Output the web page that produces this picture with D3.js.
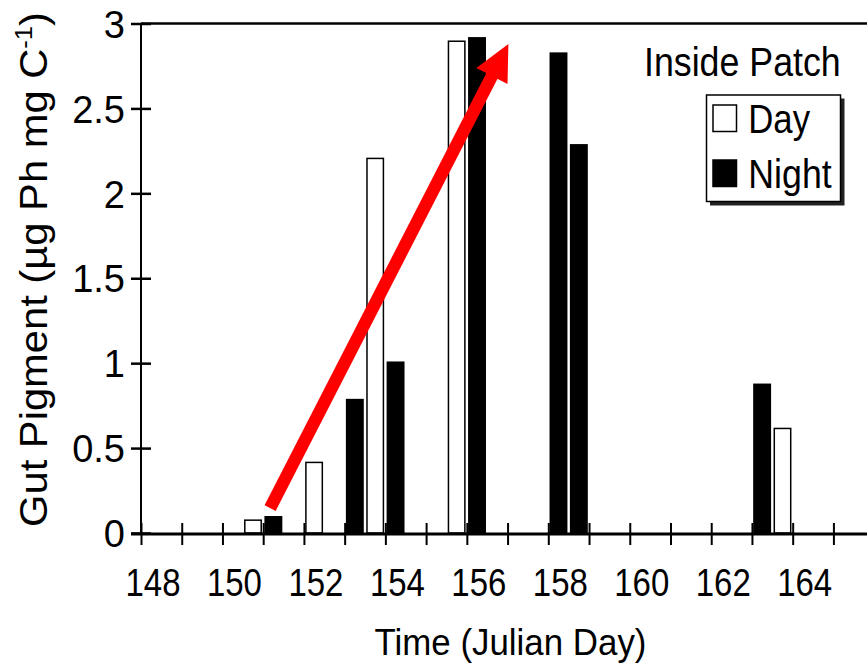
<!DOCTYPE html>
<html><head><meta charset="utf-8">
<script src="https://cdn.jsdelivr.net/npm/d3@7"></script>
<style>
body{margin:0;background:#fff}
svg{display:block}
text{font-family:"Liberation Sans",Arial,Helvetica,sans-serif;fill:#000}
</style>
</head><body>
<svg id="c" width="867" height="668"></svg>
<script>
// ---- data ----
const dayTimes   = [150.75, 152.25, 153.75, 155.75, 163.75];
const dayValues  = [0.08, 0.42, 2.21, 2.90, 0.62];
const nightTimes = [151.25, 153.25, 154.25, 156.25, 158.25, 158.75, 163.25];
const nightValues= [0.10, 0.79, 1.01, 2.92, 2.83, 2.29, 0.88];
const xTicks = [148,149,150,151,152,153,154,155,156,157,158,159,160,161,162,163,164,165];
const xTickLabels = ["148","","150","","152","","154","","156","","158","","160","","162","","164",""];
const yTicks = [0,0.5,1,1.5,2,2.5,3];
const yTickLabels = ["0","0.5","1","1.5","2","2.5","3"];
const seriesNames = ["Day","Night"];
const legendTitle = "Inside Patch";
const xTitle = "Time (Julian Day)";
const yTitleMain = "Gut Pigment (\u00B5g Ph mg C";
const yTitleSup = "-1";
const yTitleEnd = ")";
const arrowFrom = [151.17, 0.147];
const arrowTo   = [157.02, 2.88];

// ---- layout ----
const svg = d3.select("#c");
const pxDay = 40.73;
const x = d3.scaleLinear().domain([148,166]).range([141, 141 + 18*pxDay]);
const y = d3.scaleLinear().domain([0,3]).range([533, 23.5]);
const bw = x(148.44) - x(148);

// bars
const dayData = dayTimes.map((t,i)=>({t, v:dayValues[i]}));
const nightData = nightTimes.map((t,i)=>({t, v:nightValues[i]}));

svg.append("g").selectAll("rect").data(nightData).join("rect")
  .attr("x", d=>x(d.t)-bw/2).attr("width", bw)
  .attr("y", d=>y(d.v)).attr("height", d=>y(0)-y(d.v))
  .attr("fill","#000");

svg.append("g").selectAll("rect").data(dayData).join("rect")
  .attr("x", d=>x(d.t)-bw/2+0.75).attr("width", bw-1.5)
  .attr("y", d=>y(d.v)+0.75).attr("height", d=>y(0)-y(d.v)-0.75)
  .attr("fill","#fff").attr("stroke","#000").attr("stroke-width",1.5);

// frame lines
svg.append("line").attr("x1",141).attr("x2",867).attr("y1",y(3)).attr("y2",y(3))
  .attr("stroke","#000").attr("stroke-width",2.5);
svg.append("line").attr("x1",x(148)).attr("x2",x(148)).attr("y1",y(3)).attr("y2",y(0))
  .attr("stroke","#000").attr("stroke-width",2);

// x axis
const xAxis = d3.axisBottom(x).tickValues(xTicks).tickFormat((d,i)=>xTickLabels[i]).tickSizeOuter(0);
const gx = svg.append("g").attr("transform",`translate(0,${y(0)+1})`).call(xAxis);
gx.select(".domain").remove();
gx.selectAll(".tick line").attr("y1",-11).attr("y2",11).attr("stroke","#000").attr("stroke-width",2);
gx.selectAll(".tick text").attr("y",62).attr("dy",0).attr("dx",11.5)
  .attr("font-size",38).attr("font-family",null)
  .attr("textLength", function(){return this.textContent ? 55 : null;})
  .attr("lengthAdjust","spacingAndGlyphs");
svg.append("line").attr("x1",131).attr("x2",867).attr("y1",y(0)+1).attr("y2",y(0)+1)
  .attr("stroke","#000").attr("stroke-width",3);

// y axis
const yAxis = d3.axisLeft(y).tickValues(yTicks).tickFormat((d,i)=>yTickLabels[i]).tickSizeOuter(0);
const gy = svg.append("g").attr("transform",`translate(${x(148)},0)`).call(yAxis);
gy.select(".domain").remove();
gy.selectAll(".tick line").attr("x1",-10).attr("x2",10).attr("stroke","#000").attr("stroke-width",2.5);
gy.selectAll(".tick text").attr("x",-16).attr("dy","0.36em")
  .attr("font-size",38).attr("font-family",null);

// titles
svg.append("text").attr("x",510.5).attr("y",655).attr("text-anchor","middle")
  .attr("font-size",37).attr("textLength",272).attr("lengthAdjust","spacingAndGlyphs").text(xTitle);

const yt = svg.append("text").attr("transform","translate(47,269.5) rotate(-90)")
  .attr("text-anchor","middle").attr("font-size",39)
  .attr("textLength",515).attr("lengthAdjust","spacingAndGlyphs");
yt.append("tspan").text(yTitleMain);
yt.append("tspan").attr("font-size",24).attr("dy",-15).text(yTitleSup);
yt.append("tspan").attr("dy",15).text(yTitleEnd);

// arrow annotation
{
  const p0 = [x(arrowFrom[0]), y(arrowFrom[1])];
  const p1 = [x(arrowTo[0]), y(arrowTo[1])];
  const dx = p1[0]-p0[0], dy = p1[1]-p0[1], L = Math.hypot(dx,dy);
  const ux = dx/L, uy = dy/L, nx = -uy, ny = ux;
  const hl = 36, hw = 35;
  const b = [p1[0]-ux*hl, p1[1]-uy*hl];
  svg.append("line").attr("x1",p0[0]).attr("y1",p0[1]).attr("x2",b[0]+ux*2).attr("y2",b[1]+uy*2)
    .attr("stroke","#ff0000").attr("stroke-width",12.5);
  svg.append("path")
    .attr("d", d3.line()([p1, [b[0]+nx*hw/2, b[1]+ny*hw/2], [b[0]-nx*hw/2, b[1]-ny*hw/2]]) + "Z")
    .attr("fill","#ff0000");
}

// legend
svg.append("text").attr("x",840.7).attr("y",76).attr("text-anchor","end")
  .attr("font-size",40).attr("textLength",196.7).attr("lengthAdjust","spacingAndGlyphs").text(legendTitle);
const lg = svg.append("g");
lg.append("rect").attr("x",710).attr("y",98.5).attr("width",134.5).attr("height",107).attr("fill","#222");
lg.append("rect").attr("x",706.5).attr("y",95).attr("width",134).attr("height",106.5)
  .attr("fill","#fff").attr("stroke","#000").attr("stroke-width",1.5);
const legendRows = [105, 160];
const legendLens = [61.7, 83.4];
seriesNames.forEach((n,i)=>{
  lg.append("rect").attr("x",713).attr("y",legendRows[i]).attr("width",23.5).attr("height",26.5)
    .attr("fill", i===0 ? "#fff" : "#000").attr("stroke","#000").attr("stroke-width",1.5);
  lg.append("text").attr("x",748.3).attr("y",legendRows[i]+28).attr("font-size",40)
    .attr("textLength",legendLens[i]).attr("lengthAdjust","spacingAndGlyphs").text(n);
});
</script>
</body></html>
